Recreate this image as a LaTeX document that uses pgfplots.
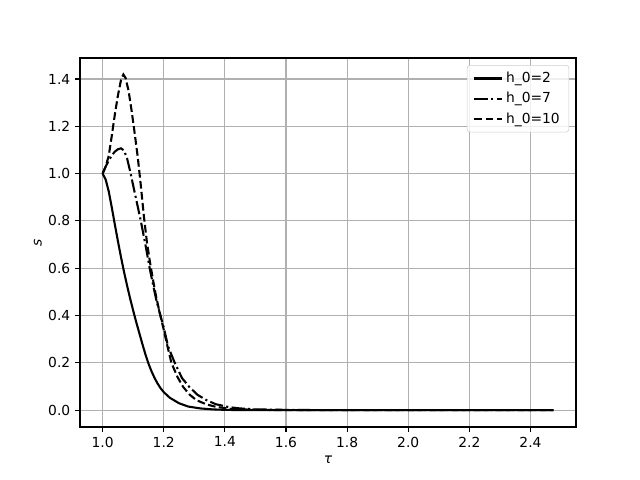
\documentclass[border=0pt]{standalone}
\usepackage{pgfplots}
\pgfplotsset{compat=1.18}
\usepackage{fontspec}
\setmainfont{DejaVu Sans}
\begin{document}
\begin{tikzpicture}
\path[use as bounding box] (-57.6bp,-38.16bp) rectangle ++(460.8bp,345.6bp);
\begin{axis}[
  at={(0,0)}, anchor=south west,
  scale only axis, width=357.12bp, height=265.68bp,
  xmin=0.926, xmax=2.549, ymin=-0.0715, ymax=1.489,
  xtick={1.0,1.2,1.4,1.6,1.8,2.0,2.2,2.4},
  ytick={0,0.2,0.4,0.6,0.8,1.0,1.2,1.4},
  xticklabel style={/pgf/number format/.cd,fixed,fixed zerofill,precision=1},
  yticklabel style={/pgf/number format/.cd,fixed,fixed zerofill,precision=1},
  /pgf/number format/assume math mode=true,
  tick label style={font=\fontsize{10}{12}\selectfont},
  label style={font=\fontsize{10}{12}\selectfont},
  xlabel={\itshape τ}, ylabel={\itshape s},
  xlabel style={at={(axis description cs:0.5,0)}, anchor=north, yshift=-17bp},
  ylabel style={at={(axis description cs:0,0.5)}, anchor=south, rotate=0, yshift=24bp},
  grid=major,
  grid style={color=black!31, line width=0.8bp},
  axis line style={line width=0.8bp},
  tick style={color=black, line width=0.8bp},
  tick align=outside, major tick length=3.5bp,
  xtick pos=bottom, ytick pos=left,
  legend style={at={(axis description cs:0.986,0.981)}, anchor=north east,
    draw=black!20, rounded corners=2bp, fill=white, fill opacity=0.8, text opacity=1,
    font=\fontsize{10}{12}\selectfont, inner xsep=4.5bp, inner ysep=3bp, row sep=1.5bp},
  legend cell align=left,
  legend image code/.code={\draw[#1] (0bp,0bp) -- (20bp,0bp);},
]
\addplot[black, line width=1.5bp] table {
1.00 1.000
1.01 0.975
1.02 0.925
1.03 0.857
1.04 0.785
1.05 0.715
1.06 0.648
1.07 0.585
1.08 0.527
1.09 0.472
1.10 0.421
1.11 0.372
1.12 0.326
1.13 0.280
1.14 0.236
1.15 0.197
1.16 0.164
1.17 0.136
1.18 0.112
1.19 0.092
1.20 0.076
1.22 0.052
1.25 0.029
1.28 0.015
1.32 0.007
1.36 0.003
1.40 0.001
1.45 0.000
1.60 0.000
2.00 0.000
2.475 0.000
};
\addlegendentry{h\_0=2}
\addplot[black, line width=1.5bp, dash pattern=on 9.6bp off 2.4bp on 1.5bp off 2.4bp] table {
1.00 1.000
1.01 1.030
1.02 1.055
1.03 1.077
1.04 1.093
1.05 1.103
1.06 1.107
1.07 1.098
1.08 1.065
1.09 1.010
1.10 0.950
1.11 0.890
1.125 0.800
1.14 0.700
1.154 0.600
1.165 0.530
1.175 0.470
1.189 0.400
1.20 0.350
1.214 0.270
1.236 0.200
1.26 0.135
1.283 0.099
1.31 0.065
1.34 0.042
1.37 0.025
1.416 0.012
1.45 0.007
1.50 0.003
1.60 0.001
1.70 0.000
2.00 0.000
2.475 0.000
};
\addlegendentry{h\_0=7}
\addplot[black, line width=1.5bp, dash pattern=on 5.55bp off 2.4bp] table {
1.00 1.000
1.01 1.030
1.02 1.075
1.03 1.160
1.04 1.250
1.05 1.330
1.06 1.395
1.068 1.419
1.075 1.405
1.085 1.350
1.095 1.265
1.105 1.170
1.115 1.070
1.125 0.950
1.135 0.820
1.145 0.710
1.155 0.625
1.165 0.550
1.175 0.480
1.189 0.400
1.20 0.340
1.214 0.260
1.225 0.200
1.245 0.140
1.263 0.099
1.285 0.065
1.307 0.042
1.34 0.024
1.37 0.014
1.42 0.005
1.50 0.001
1.60 0.000
2.00 0.000
2.475 0.000
};
\addlegendentry{h\_0=10}
\end{axis}
\end{tikzpicture}
\end{document}
